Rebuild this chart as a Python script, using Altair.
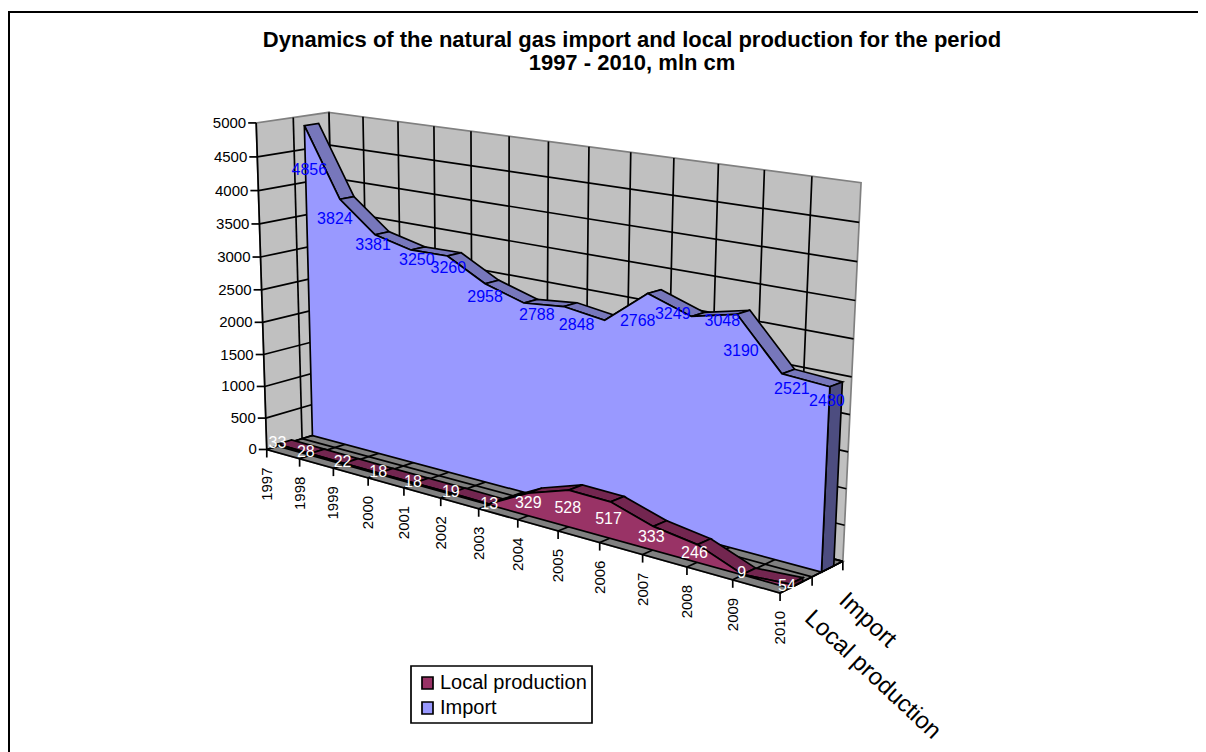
import altair as alt
import numpy as np
import pandas as pd

YEARS = [str(y) for y in range(1997, 2011)]
IMPORT = [4856, 3824, 3381, 3250, 3260, 2958, 2788, 2848, 2768, 3249, 3048, 3190, 2521, 2480]
LOCAL = [33, 28, 22, 18, 18, 19, 13, 329, 528, 517, 333, 246, 9, 54]
VALUE_TICKS = list(range(0, 5001, 500))
DEPTH_NAMES = ["Local production", "Import"]
TITLE_LINES = ["Dynamics of the natural gas import and local production for the period",
               "1997 - 2010, mln cm"]

# label nudges (pixels, relative to the projected top of each series' front face)
IMPORT_NUDGE = [(5, 44), (-5, 20), (-2, 10), (6, 10), (1, 12), (0, 13), (13, 12), (13, 18),
                (33, 1), (25, 21), (31, 5), (4, 37), (10, 15), (-3, 14)]
LOCAL_NUDGE = [(0, -1), (-4.5, -2), (-1.5, -1), (-.5, -1), (-1.5, -1), (-.5, -1), (0, 0), (0, 10),
               (-1, 18), (-2, 17), (-2, 10.5), (-3, 8), (-1, -1), (-3, 2)]

# camera calibration: (category 0-1, value 0-1, depth 0-1) -> page pixel
CAL = [(0, 0, 0, 266, 451), (1, 0, 0, 780, 592), (0, 0, 1, 337, 427), (1, 0, 1, 844, 562),
       (0, 1, 0, 257, 123), (0, 1, 1, 328, 112), (1, 1, 1, 860, 184), (1, 1, 0, 797, 198)]
TICK_X = [266, 301, 333, 369, 404, 441, 478, 517, 558, 599, 643, 687, 732, 780]

A, b = [], []
for u, v, w, x, y in CAL:
    A.append([u, v, w, 1, 0, 0, 0, 0, -x * u, -x * v, -x * w]); b.append(x)
    A.append([0, 0, 0, 0, u, v, w, 1, -y * u, -y * v, -y * w]); b.append(y)
for i, x in enumerate(TICK_X):
    u = i / 13
    A.append([u, 0, 0, 1, 0, 0, 0, 0, -x * u, 0, 0]); b.append(x)
p = np.linalg.lstsq(np.array(A, float), np.array(b, float), rcond=None)[0]


def proj(u, v, w):
    d = p[8] * u + p[9] * v + p[10] * w + 1
    return (p[0] * u + p[1] * v + p[2] * w + p[3]) / d, (p[4] * u + p[5] * v + p[6] * w + p[7]) / d


n = len(YEARS)
U = [i / (n - 1) for i in range(n)]


class Shapes:
    def __init__(self):
        self.rows = []
        self.count = 0

    def add(self, pts, fill=None, stroke="#000000"):
        self.count += 1
        for k, (x, y) in enumerate(pts):
            self.rows.append({"id": self.count, "k": k, "px": x, "py": y,
                              "fillc": fill or "none", "strokec": stroke})

    def quad3(self, corners, fill, stroke="#000000"):
        self.add([proj(*c) for c in corners], fill, stroke)


xs = alt.Scale(domain=[8, 1198], range=[0, 1190], nice=False, zero=False)
ys = alt.Scale(domain=[8, 752], range=[0, 744], nice=False, zero=False)
X = alt.X("px:Q", scale=xs, axis=None)
Y = alt.Y("py:Q", scale=ys, axis=None)
LW = 1.7


def poly_layer(s, width=LW):
    return alt.Chart(pd.DataFrame(s.rows)).mark_line(interpolate="linear-closed", strokeWidth=width).encode(
        x=X, y=Y, detail="id:Q", order="k:Q",
        fill=alt.Fill("fillc:N", scale=None), stroke=alt.Stroke("strokec:N", scale=None))


def line_layer(rows, color="#000000", width=LW):
    data = []
    for i, pts in enumerate(rows):
        for k, (x, y) in enumerate(pts):
            data.append({"id": i, "k": k, "px": x, "py": y})
    return alt.Chart(pd.DataFrame(data)).mark_line(color=color, strokeWidth=width).encode(
        x=X, y=Y, detail="id:Q", order="k:Q")


def text_layer(rows, **kw):
    return alt.Chart(pd.DataFrame(rows, columns=["px", "py", "t"])).mark_text(font="Liberation Sans", **kw).encode(
        x=X, y=Y, text="t:N")


# walls and floor
walls = Shapes()
GREY_WALL, GREY_FLOOR = "#C0C0C0", "#808080"
walls.quad3([(0, 0, 0), (0, 1, 0), (0, 1, 1), (0, 0, 1)], GREY_WALL, GREY_FLOOR)
walls.quad3([(0, 0, 1), (0, 1, 1), (1, 1, 1), (1, 0, 1)], GREY_WALL, GREY_FLOOR)
walls.quad3([(0, 0, 0), (0, 0, 1), (1, 0, 1), (1, 0, 0)], GREY_FLOOR, GREY_FLOOR)

grid = []
for t in VALUE_TICKS[:-1]:
    v = t / 5000
    grid.append([proj(0, v, 0), proj(0, v, 1), proj(1, v, 1)])
for u in U[:-1]:
    grid.append([proj(u, 0, 0), proj(u, 0, 1), proj(u, 1, 1)])
grid.append([proj(0, 0, .5), proj(0, 1, .5)])
grid.append([proj(0, 0, .5), proj(1, 0, .5)])
grid.append([proj(1, 0, 1), proj(0, 0, 1)])
grid.append([proj(1, 0, 0), proj(1, 0, 1)])
# axis lines and tick marks
axis_lines = [[proj(0, 1, 0), proj(0, 0, 0), proj(1, 0, 0), proj(1, 0, 1)]]
for t in VALUE_TICKS:
    x, y = proj(0, t / 5000, 0)
    axis_lines.append([(x - 8, y), (x, y)])
for u in U:
    x, y = proj(u, 0, 0)
    axis_lines.append([(x, y), (x, y + 8)])
for w in (.5, 1):
    x, y = proj(1, 0, w)
    axis_lines.append([(x, y), (x, y + 9)])

# series solids
DEPTH = {"local": (.15, .35), "import": (.65, .85)}


def series(vals, key, top, front, end):
    s = Shapes()
    w0, w1 = DEPTH[key]
    v = [x / 5000 for x in vals]
    for i in range(n - 1):
        s.quad3([(U[i], v[i], w0), (U[i + 1], v[i + 1], w0), (U[i + 1], v[i + 1], w1), (U[i], v[i], w1)], top)
    s.quad3([(1, 0, w0), (1, v[-1], w0), (1, v[-1], w1), (1, 0, w1)], end)
    s.add([proj(0, 0, w0)] + [proj(U[i], v[i], w0) for i in range(n)] + [proj(1, 0, w0)], front)
    return s


imp = series(IMPORT, "import", "#7777BB", "#9999FF", "#4D4D80")
loc = series(LOCAL, "local", "#732650", "#993366", "#4D1933")

# texts
imp_lab, loc_lab = [], []
for i in range(n):
    x, y = proj(U[i], IMPORT[i] / 5000, .65)
    imp_lab.append((x + IMPORT_NUDGE[i][0], y + IMPORT_NUDGE[i][1], str(IMPORT[i])))
    x, y = proj(U[i], LOCAL[i] / 5000, .15)
    loc_lab.append((x + LOCAL_NUDGE[i][0], y + LOCAL_NUDGE[i][1], str(LOCAL[i])))

val_lab = []
for t in VALUE_TICKS:
    x, y = proj(0, t / 5000, 0)
    val_lab.append((x - 10, y, str(t)))
year_lab = []
for u, yr in zip(U, YEARS):
    x, y = proj(u, 0, 0)
    year_lab.append((x, y + 18, yr))
depth_lab = []
for name, w, off in zip(DEPTH_NAMES, (.25, .75), ((12, 30), (15, 28))):
    x, y = proj(1, 0, w)
    depth_lab.append((x + off[0], y + off[1], name))

# frame and legend
frame = line_layer([[(9, 752), (9, 12), (1198, 12)]], width=2)
legend_box = Shapes()
legend_box.add([(411, 666), (592, 666), (592, 723), (411, 723)], "#FFFFFF")
legend_sym = Shapes()
for cy, c in ((683, "#993366"), (708, "#9999FF")):
    legend_sym.add([(422, cy - 6), (433, cy - 6), (433, cy + 6), (422, cy + 6)], c)

chart = alt.layer(
    frame,
    poly_layer(walls),
    line_layer(grid),
    poly_layer(imp),
    poly_layer(loc),
    line_layer(axis_lines),
    text_layer([(632, 40, TITLE_LINES[0]), (632, 63, TITLE_LINES[1])], fontSize=22, fontWeight="bold", color="#000000"),
    text_layer(val_lab, fontSize=15, align="right", baseline="middle", color="#000000"),
    text_layer(year_lab, fontSize=15, align="right", baseline="middle", angle=270, color="#000000"),
    text_layer(depth_lab, fontSize=24, align="left", baseline="middle", angle=43, color="#000000"),
    text_layer(imp_lab, fontSize=16, align="center", baseline="middle", color="#0000FF"),
    text_layer(loc_lab, fontSize=16, align="center", baseline="middle", color="#FFFFFF"),
    poly_layer(legend_box),
    poly_layer(legend_sym),
    text_layer([(440, 683, DEPTH_NAMES[0]), (440, 708, DEPTH_NAMES[1])], fontSize=20, align="left", baseline="middle", color="#000000"),
).properties(width=1190, height=744, padding=0, autosize=alt.AutoSizeParams(type="none"),
             background="#FFFFFF").configure_view(stroke=None)

chart.save("out.html", embed_options={"renderer": "svg", "actions": False})
